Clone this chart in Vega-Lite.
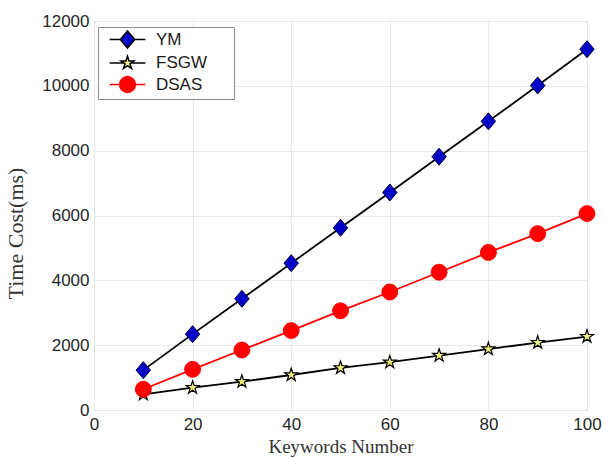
{
  "$schema": "https://vega.github.io/schema/vega-lite/v6.json",
  "width": 493,
  "height": 389,
  "autosize": {"type": "none"},
  "padding": {"left": 94, "top": 21, "right": 18, "bottom": 47},
  "background": "white",
  "config": {
    "view": {"stroke": "#8c8c8c", "strokeWidth": 1},
    "font": "Liberation Sans"
  },
  "data": {
    "values": [
      {"series": "YM", "k": 10, "t": 1230},
      {"series": "YM", "k": 20, "t": 2340},
      {"series": "YM", "k": 30, "t": 3430},
      {"series": "YM", "k": 40, "t": 4530},
      {"series": "YM", "k": 50, "t": 5620},
      {"series": "YM", "k": 60, "t": 6710},
      {"series": "YM", "k": 70, "t": 7815},
      {"series": "YM", "k": 80, "t": 8905},
      {"series": "YM", "k": 90, "t": 10010},
      {"series": "YM", "k": 100, "t": 11130},
      {"series": "FSGW", "k": 10, "t": 485},
      {"series": "FSGW", "k": 20, "t": 690},
      {"series": "FSGW", "k": 30, "t": 875},
      {"series": "FSGW", "k": 40, "t": 1080},
      {"series": "FSGW", "k": 50, "t": 1300},
      {"series": "FSGW", "k": 60, "t": 1475},
      {"series": "FSGW", "k": 70, "t": 1680},
      {"series": "FSGW", "k": 80, "t": 1880},
      {"series": "FSGW", "k": 90, "t": 2080},
      {"series": "FSGW", "k": 100, "t": 2265},
      {"series": "DSAS", "k": 10, "t": 640},
      {"series": "DSAS", "k": 20, "t": 1255},
      {"series": "DSAS", "k": 30, "t": 1850},
      {"series": "DSAS", "k": 40, "t": 2450},
      {"series": "DSAS", "k": 50, "t": 3060},
      {"series": "DSAS", "k": 60, "t": 3640},
      {"series": "DSAS", "k": 70, "t": 4250},
      {"series": "DSAS", "k": 80, "t": 4860},
      {"series": "DSAS", "k": 90, "t": 5440},
      {"series": "DSAS", "k": 100, "t": 6060}
    ]
  },
  "encoding": {
    "x": {
      "field": "k",
      "type": "quantitative",
      "scale": {"domain": [0, 100], "nice": false},
      "axis": {
        "values": [0, 20, 40, 60, 80, 100],
        "title": "Keywords Number",
        "grid": true,
        "gridColor": "#e8e8e8",
        "domain": false,
        "ticks": false,
        "labelFont": "Liberation Sans",
        "labelFontSize": 17,
        "labelColor": "#262626",
        "labelPadding": 6,
        "labelFlush": false,
        "titleFont": "Liberation Serif",
        "titleFontSize": 19,
        "titleFontWeight": "normal",
        "titleColor": "#333333",
        "titlePadding": 5
      }
    },
    "y": {
      "field": "t",
      "type": "quantitative",
      "scale": {"domain": [0, 12000], "nice": false},
      "axis": {
        "values": [0, 2000, 4000, 6000, 8000, 10000, 12000],
        "format": "d",
        "title": "Time Cost(ms)",
        "grid": true,
        "gridColor": "#e8e8e8",
        "domain": false,
        "ticks": false,
        "labelFont": "Liberation Sans",
        "labelFontSize": 17,
        "labelColor": "#262626",
        "labelPadding": 5,
        "titleFont": "Liberation Serif",
        "titleFontSize": 22,
        "titleFontWeight": "normal",
        "titleColor": "#333333",
        "titleX": -67,
        "titleY": 212
      }
    }
  },
  "layer": [
    {
      "mark": {"type": "line", "strokeWidth": 1.8},
      "encoding": {
        "stroke": {
          "field": "series",
          "type": "nominal",
          "scale": {"domain": ["YM", "FSGW", "DSAS"], "range": ["#000000", "#000000", "#ff0000"]},
          "legend": {
            "orient": "none",
            "legendX": 4,
            "legendY": 6,
            "title": null,
            "padding": 3,
            "symbolOffset": 17,
            "symbolSize": 289,
            "symbolStrokeWidth": 1.5,
            "labelOffset": 19,
            "rowPadding": 1.5,
            "labelFont": "Liberation Sans",
            "labelFontSize": 17,
            "labelColor": "#1a1a1a",
            "labelExpr": "datum.label + '\u2800\u2800'",
            "strokeColor": "#8c8c8c",
            "fillColor": "#ffffff",
            "cornerRadius": 0,
            "encode": {
              "symbols": {
                "update": {
                  "shape": {"signal": "datum.value === 'YM' ? 'M-2.1,0L-0.85,0M0.85,0L2.1,0M0,-1L0.85,0L0,1L-0.85,0Z' : datum.value === 'FSGW' ? 'M-2.1,0L-0.42,0M0.42,0L2.1,0M0,-0.8L0.18,-0.248L0.761,-0.247L0.291,0.095L0.47,0.647L0,0.306L-0.47,0.647L-0.291,0.095L-0.761,-0.247L-0.18,-0.248Z' : 'M-2.1,0L-0.93,0M0.93,0L2.1,0M-0.93,0A0.93,0.93 0 1,0 0.93,0A0.93,0.93 0 1,0 -0.93,0Z'"},
                  "fill": {"signal": "datum.value === 'YM' ? '#0000c8' : datum.value === 'FSGW' ? '#f0f07a' : '#ff0000'"},
                  "stroke": {"signal": "datum.value === 'DSAS' ? '#ff0000' : '#000000'"},
                  "strokeWidth": {"value": 1.5},
                  "size": {"value": 289},
                  "opacity": {"value": 1},
                  "fillOpacity": {"value": 1},
                  "strokeOpacity": {"value": 1}
                }
              }
            }
          }
        }
      }
    },
    {
      "transform": [{"filter": "datum.series === 'YM'"}],
      "mark": {"type": "point", "filled": true, "size": 289, "strokeWidth": 1, "opacity": 1, "fill": "#0000c8", "stroke": "#000033", "shape": "M0,-1L0.85,0L0,1L-0.85,0Z"}
    },
    {
      "transform": [{"filter": "datum.series === 'FSGW'"}],
      "mark": {"type": "point", "filled": true, "size": 289, "strokeWidth": 1.2, "opacity": 1, "fill": "#f0f07a", "stroke": "#000000", "shape": "M0,-0.8L0.18,-0.248L0.761,-0.247L0.291,0.095L0.47,0.647L0,0.306L-0.47,0.647L-0.291,0.095L-0.761,-0.247L-0.18,-0.248Z"}
    },
    {
      "transform": [{"filter": "datum.series === 'DSAS'"}],
      "mark": {"type": "point", "filled": true, "size": 289, "strokeWidth": 1, "opacity": 1, "fill": "#ff0000", "stroke": "#ff0000", "shape": "M-0.93,0A0.93,0.93 0 1,0 0.93,0A0.93,0.93 0 1,0 -0.93,0Z"}
    }
  ]
}
